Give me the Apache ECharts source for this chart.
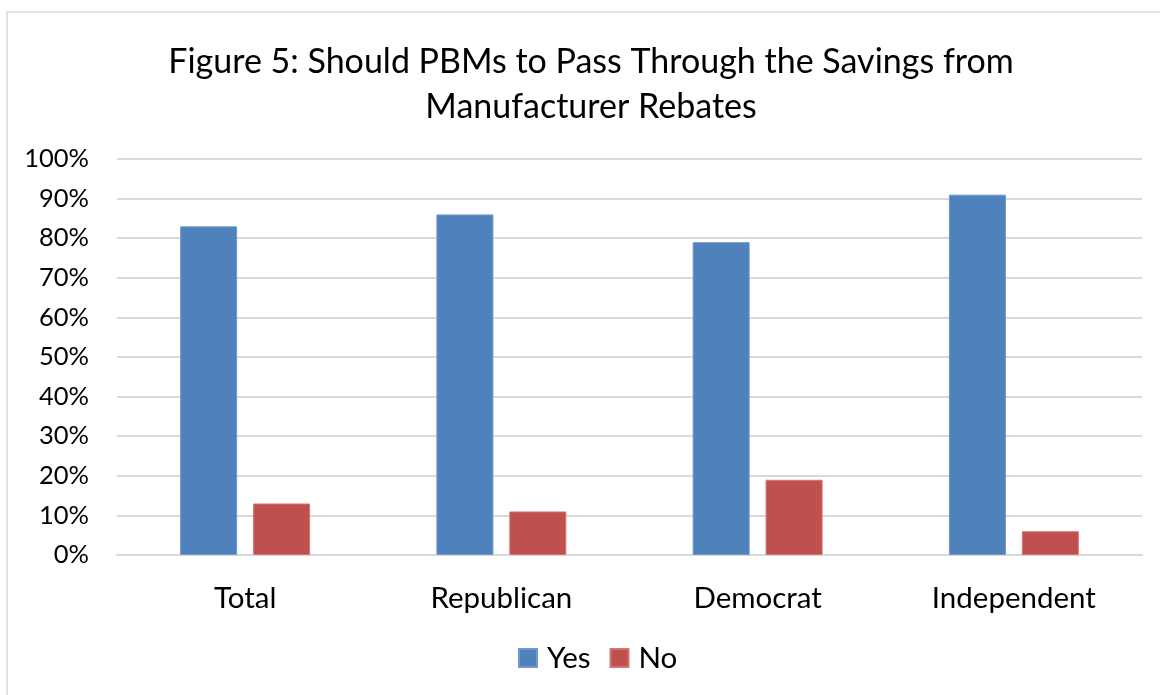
<!DOCTYPE html>
<html>
<head>
<meta charset="utf-8">
<script src="https://cdn.jsdelivr.net/npm/echarts@6/dist/echarts.min.js"></script>
<style>
  html, body { margin: 0; padding: 0; background: #fff; }
  #chart { width: 1160px; height: 695px; }
</style>
</head>
<body>
<div id="chart"></div>
<script>
// Survey responses by party affiliation (percent)
const categories = ['Total', 'Republican', 'Democrat', 'Independent'];
const yesValues = [83, 86, 79, 91];
const noValues = [13, 11, 19, 6];
const seriesNames = ['Yes', 'No'];
const titleText = 'Figure 5: Should PBMs to Pass Through the Savings from\nManufacturer Rebates';

const FONT = 'Lato, "Open Sans", sans-serif';
const chart = echarts.init(document.getElementById('chart'), null, { renderer: 'canvas' });

chart.setOption({
  backgroundColor: '#ffffff',
  animation: false,
  graphic: [{
    type: 'rect',
    shape: { x: 7, y: 12, width: 1170, height: 700 },
    style: { fill: 'none', stroke: '#d9d9d9', lineWidth: 1.5 },
    silent: true
  }],
  title: {
    text: titleText,
    left: 586,
    textAlign: 'center',
    top: 35,
    textStyle: {
      fontFamily: FONT,
      fontSize: 34,
      fontWeight: 'normal',
      color: '#000',
      lineHeight: 45
    }
  },
  legend: {
    data: seriesNames,
    bottom: 17,
    left: 513,
    itemWidth: 18,
    itemHeight: 18,
    itemGap: 19,
    icon: 'rect',
    textStyle: { fontFamily: FONT, fontSize: 29.5, color: '#000', padding: [0, 0, 0, 5] }
  },
  grid: { left: 117, right: 18, top: 159, bottom: 140, containLabel: false },
  xAxis: {
    type: 'category',
    data: categories,
    axisLine: { show: true, lineStyle: { color: '#d9d9d9', width: 2 } },
    axisTick: { show: false },
    axisLabel: { fontFamily: FONT, fontSize: 29.5, color: '#000', margin: 28 }
  },
  yAxis: {
    type: 'value',
    min: 0,
    max: 100,
    interval: 10,
    axisLine: { show: false },
    axisTick: { show: false },
    splitLine: { lineStyle: { color: '#d9d9d9', width: 2 } },
    axisLabel: {
      fontFamily: FONT,
      fontSize: 25.5,
      color: '#000',
      margin: 28,
      formatter: v => v + '%'
    }
  },
  series: [
    {
      name: seriesNames[0],
      type: 'bar',
      data: yesValues,
      barWidth: 57,
      barGap: '28%',
      itemStyle: { color: '#4F81BD', borderColor: '#6f98cc', borderWidth: 1 }
    },
    {
      name: seriesNames[1],
      type: 'bar',
      data: noValues,
      barWidth: 57,
      barGap: '28%',
      itemStyle: { color: '#C0504D', borderColor: '#d27571', borderWidth: 1 }
    }
  ]
});
</script>
</body>
</html>
